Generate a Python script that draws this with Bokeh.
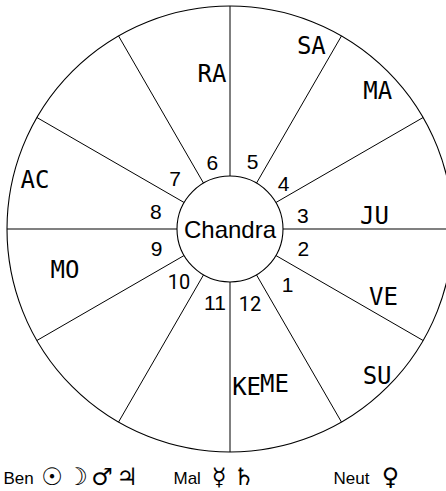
import numpy as np
from bokeh.plotting import figure
from bokeh.models import Range1d, ColumnDataSource
from bokeh.core.properties import value
from bokeh.embed import file_html
from bokeh.resources import INLINE

# ---- data ----
center_label = "Chandra"
houses = list(range(1, 13))
house_labels = [str(h) for h in houses]
planets = ["SU", "VE", "JU", "MA", "SA", "RA", "AC", "MO", "KE", "ME"]
planet_house = [1, 2, 3, 4, 5, 6, 8, 9, 12, 12]
planet_deg = [15, 6, 5, 13, 6, 6.6, 16, 14, 6, 16]  # degrees within house
legend_groups = ["Ben", "Mal", "Neut"]
legend_symbols = [["\u2609", "\u263D", "\u2642", "\u2643"], ["\u263F", "\u2644"], ["\u2640"]]

# ---- layout ----
W, H = 446, 491
CX, CY = 229.5, 228.5
R_OUT, R_IN = 223, 53
HOUSE1_START = 300  # degrees, counter-clockwise from east
num_shift = [1, 0, -5, -5, -3.6, 0, 3, 2, 0, 1, 3.5, 0]     # label angle tweak
num_r = [80, 76, 74, 70, 71, 68, 74, 76, 76, 73.5, 75.5, 77]
planet_r = [208, 168, 145, 202, 200, 156, 201, 170, 159, 161]
LABEL_FONT = value("DejaVu Sans Mono")

p = figure(width=W, height=H, x_range=Range1d(-CX, W - CX),
           y_range=Range1d(-(H - CY), CY), output_backend="svg",
           toolbar_location=None, min_border=0, x_axis_type=None,
           y_axis_type=None)
p.grid.visible = False
p.outline_line_color = None
p.background_fill_color = "white"
p.border_fill_color = "white"

# radial lines
deg = list(range(0, 360, 30))
ang = np.deg2rad(deg)
colors = ["#808080" if a in (0, 180) else "black" for a in deg]
widths = [2.2 if a in (0, 180) else 1.0 for a in deg]
p.segment(x0=R_IN * np.cos(ang), y0=R_IN * np.sin(ang),
          x1=R_OUT * np.cos(ang), y1=R_OUT * np.sin(ang),
          line_color=colors, line_width=widths)

# circles
p.circle(x=[0], y=[0], radius=R_OUT, fill_color=None, line_color="black", line_width=1.1)
p.circle(x=[0], y=[0], radius=R_IN, fill_color="white", line_color="black", line_width=1.1)

p.text(x=[0], y=[0], text=[center_label], text_font=value("Liberation Sans"),
       text_font_size="24px", text_align="center", text_baseline="middle",
       text_color="black")

# house numbers
mid = np.deg2rad(HOUSE1_START + 30 * (np.array(houses) - 1) + 15 + np.array(num_shift))
rr = np.array(num_r)
nx, ny = rr * np.cos(mid), rr * np.sin(mid)
narrow = [h in (10, 12) for h in houses]
src_w = ColumnDataSource(dict(x=[a for a, n in zip(nx, narrow) if not n],
                              y=[b for b, n in zip(ny, narrow) if not n],
                              t=[l for l, n in zip(house_labels, narrow) if not n]))
src_n = ColumnDataSource(dict(x=[a for a, n in zip(nx, narrow) if n],
                              y=[b for b, n in zip(ny, narrow) if n],
                              t=[l for l, n in zip(house_labels, narrow) if n]))
p.text(x="x", y="y", text="t", source=src_w, text_font=value("Liberation Sans"),
       text_font_size="21px", text_align="center", text_baseline="middle")
p.text(x="x", y="y", text="t", source=src_n, text_font=value("Roboto"),
       text_font_size="20px", text_align="center", text_baseline="middle")

# planets
pa = np.deg2rad(HOUSE1_START + 30 * (np.array(planet_house) - 1) + np.array(planet_deg))
pr = np.array(planet_r)
p.text(x=pr * np.cos(pa), y=pr * np.sin(pa), text=planets,
       text_font=LABEL_FONT, text_font_size="24px",
       text_align="center", text_baseline="middle")

# legend
leg_x = [3, 173, 333]
sym_x0 = [51.5, 218.5, 390]
SYM_STEP = 25
leg_y = CY - 478
p.text(x=[x - CX for x in leg_x], y=[leg_y] * 3, text=legend_groups,
       text_font=value("Liberation Sans"), text_font_size="17px",
       text_align="left", text_baseline="alphabetic")
sx, st = [], []
for x0, syms in zip(sym_x0, legend_symbols):
    for i, s in enumerate(syms):
        sx.append(x0 + i * SYM_STEP - CX)
        st.append(s)
p.text(x=sx, y=[leg_y + 1.5] * len(sx), text=st,
       text_font=value("DejaVu Sans"), text_font_size="24px",
       text_align="center", text_baseline="alphabetic")

open("out.html", "w").write(file_html(p, INLINE))
